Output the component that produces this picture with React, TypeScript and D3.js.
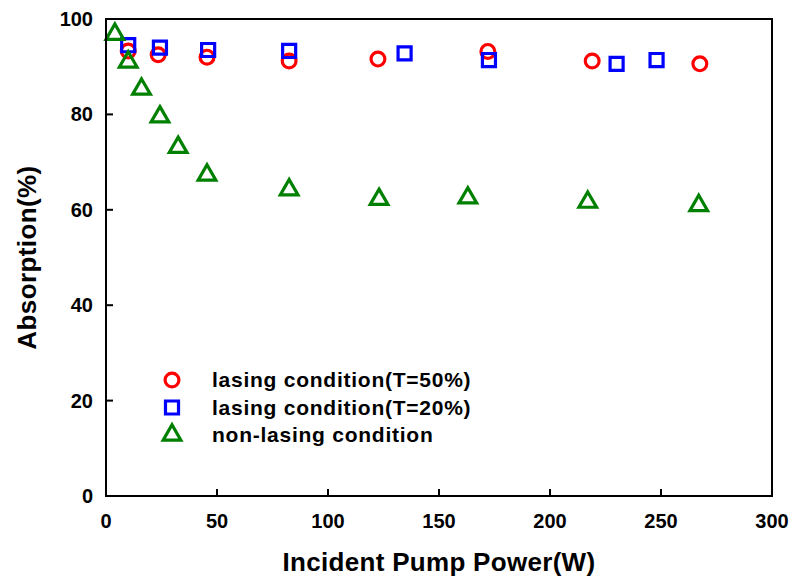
import React from 'react';
import * as d3 from 'd3';

// lasing condition (T=50%)
const lasing50X = [10, 23.5, 45.5, 82.5, 122.5, 172, 219, 267.5];
const lasing50Y = [93.3, 92.5, 92.0, 91.2, 91.6, 93.2, 91.2, 90.6];

// lasing condition (T=20%)
const lasing20X = [10, 24.3, 46, 82.5, 134.5, 172.5, 230, 248];
const lasing20Y = [94.5, 94.0, 93.5, 93.3, 92.8, 91.4, 90.6, 91.4];

// non-lasing condition
const nonLasingX = [4, 10, 16, 24.3, 32.5, 45.5, 82.5, 123, 163, 217, 267];
const nonLasingY = [96.8, 91.0, 85.3, 79.5, 73.1, 67.3, 64.2, 62.2, 62.5, 61.6, 60.9];

const xTicks = [0, 50, 100, 150, 200, 250, 300];
const yTicks = [0, 20, 40, 60, 80, 100];

const legendLabels = ['lasing condition(T=50%)', 'lasing condition(T=20%)', 'non-lasing condition'];

const W = 791;
const H = 584;
const margin = { top: 19, right: 19, bottom: 88, left: 106 };
const font = 'Liberation Sans, Arial, sans-serif';

const x = d3.scaleLinear().domain([0, 300]).range([margin.left, W - margin.right]);
const y = d3.scaleLinear().domain([0, 100]).range([H - margin.bottom, margin.top]);

const series = [
  { xs: lasing50X, ys: lasing50Y, color: '#ff0000', symbol: d3.symbolCircle, size: 150 },
  { xs: lasing20X, ys: lasing20Y, color: '#0000ff', symbol: d3.symbolSquare, size: 170 },
  { xs: nonLasingX, ys: nonLasingY, color: '#008000', symbol: d3.symbolTriangle, size: 135 },
];

export default function App() {
  const x0 = x(0), x1 = x(300), y0 = y(0), y1 = y(100);
  const tick = 7;

  return (
    <svg width={W} height={H} style={{ display: 'block', position: 'absolute', left: 0, top: 0 }}>
      <rect width={W} height={H} fill="#fff" />

      {/* points */}
      {series.map((s, si) => {
        const path = d3.symbol().type(s.symbol).size(s.size)() as string;
        return (
          <g key={si}>
            {s.xs.map((v, i) => (
              <path key={i} d={path} transform={`translate(${x(v)},${y(s.ys[i])})`}
                fill="none" stroke={s.color} strokeWidth={3.2} />
            ))}
          </g>
        );
      })}

      {/* frame */}
      <rect x={x0} y={y1} width={x1 - x0} height={y0 - y1} fill="none" stroke="#000" strokeWidth={2} />

      {/* x ticks */}
      {xTicks.map(t => (
        <g key={t}>
          {t > 0 && t < 300 && <line x1={x(t)} x2={x(t)} y1={y0} y2={y0 - tick} stroke="#000" strokeWidth={2} />}
          <text x={x(t)} y={528} textAnchor="middle" fontFamily={font} fontWeight="bold" fontSize={20}>{t}</text>
        </g>
      ))}

      {/* y ticks */}
      {yTicks.map(t => (
        <g key={t}>
          {t > 0 && t < 100 && <line x1={x0} x2={x0 + tick} y1={y(t)} y2={y(t)} stroke="#000" strokeWidth={2} />}
          <text x={93} y={y(t)} dy="0.35em" textAnchor="end" fontFamily={font} fontWeight="bold" fontSize={20}>{t}</text>
        </g>
      ))}

      {/* axis titles */}
      <text x={439} y={571} textAnchor="middle" fontFamily={font} fontWeight="bold" fontSize={26} letterSpacing={0.3}>
        Incident Pump Power(W)
      </text>
      <text transform={`translate(36,${(y0 + y1) / 2}) rotate(-90)`} textAnchor="middle"
        fontFamily={font} fontWeight="bold" fontSize={26} letterSpacing={0.4}>
        Absorption(%)
      </text>

      {/* legend */}
      {series.map((s, i) => {
        const path = d3.symbol().type(s.symbol).size(s.size)() as string;
        const ly = 380 + i * 27.5;
        return (
          <g key={i}>
            <path d={path} transform={`translate(172,${ly})`} fill="none" stroke={s.color} strokeWidth={3.2} />
            <text x={212} y={ly} dy="0.35em" fontFamily={font} fontWeight="bold" fontSize={21} letterSpacing={0.75}>
              {legendLabels[i]}
            </text>
          </g>
        );
      })}
    </svg>
  );
}
